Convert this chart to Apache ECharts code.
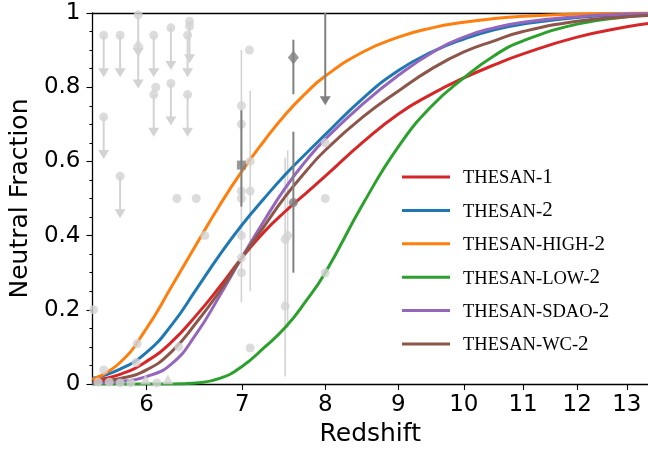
<!DOCTYPE html>
<html>
<head>
<meta charset="utf-8">
<script src="https://cdn.jsdelivr.net/npm/echarts@6/dist/echarts.min.js"></script>
<style>
  html, body { margin: 0; padding: 0; background: #fff; }
  #chart { width: 648px; height: 456px; }
</style>
</head>
<body>
<div id="chart"></div>
<script>
// Redshift grid on which the model histories are sampled
const zGrid = [5.5, 5.75, 6, 6.25, 6.5, 6.75, 7, 7.25, 7.5, 7.75, 8, 8.5, 9, 9.5, 10, 10.5, 11, 12, 13, 13.45];

// Volume-weighted neutral fraction of each simulation
const thesan1     = [0.010, 0.026, 0.061, 0.114, 0.185, 0.262, 0.342, 0.410, 0.465, 0.513, 0.560, 0.652, 0.728, 0.782, 0.825, 0.860, 0.890, 0.935, 0.963, 0.972];
const thesan2     = [0.015, 0.040, 0.085, 0.160, 0.255, 0.348, 0.430, 0.500, 0.564, 0.620, 0.672, 0.770, 0.845, 0.895, 0.930, 0.955, 0.970, 0.988, 0.995, 0.997];
const thesanHigh2 = [0.012, 0.058, 0.150, 0.264, 0.376, 0.482, 0.575, 0.655, 0.726, 0.783, 0.830, 0.895, 0.935, 0.960, 0.975, 0.985, 0.991, 0.997, 0.999, 1.000];
const thesanLow2  = [0.000, 0.000, 0.000, 0.000, 0.003, 0.015, 0.048, 0.098, 0.152, 0.222, 0.300, 0.485, 0.640, 0.750, 0.825, 0.885, 0.925, 0.970, 0.990, 0.994];
const thesanSdao2 = [0.003, 0.007, 0.020, 0.055, 0.135, 0.238, 0.343, 0.440, 0.528, 0.600, 0.660, 0.755, 0.832, 0.893, 0.935, 0.960, 0.975, 0.990, 0.997, 0.998];
const thesanWc2   = [0.005, 0.015, 0.038, 0.088, 0.165, 0.250, 0.342, 0.425, 0.505, 0.572, 0.630, 0.720, 0.790, 0.850, 0.895, 0.925, 0.950, 0.978, 0.990, 0.993];

const modelNames  = ['thesan-1', 'thesan-2', 'thesan-high-2', 'thesan-low-2', 'thesan-sdao-2', 'thesan-wc-2'];
const modelValues = [thesan1, thesan2, thesanHigh2, thesanLow2, thesanSdao2, thesanWc2];
const modelColors = ['#d62728', '#1f77b4', '#ff7f0e', '#2ca02c', '#9467bd', '#8c564b'];

// Observational constraints (light grey): measurements
const obsZ = [5.51, 5.60, 5.91, 5.90, 6.32, 6.30, 6.50, 6.59, 6.99, 6.99, 6.99, 6.99, 6.99, 6.99, 6.99, 7.08, 7.09, 7.09, 7.09, 7.50, 7.50, 7.53, 8.00, 8.00, 8.00, 6.09, 6.43, 5.55, 5.65, 5.75, 5.85, 6.10];
const obsF = [0.20, 0.038, 0.109, 0.058, 0.10, 0.50, 0.50, 0.40, 0.75, 0.70, 0.52, 0.50, 0.40, 0.34, 0.30, 0.90, 0.60, 0.52, 0.097, 0.21, 0.39, 0.40, 0.65, 0.50, 0.30, 0.80, 0.965, 0.005, 0.005, 0.003, 0.003, 0.003];
// Error bars on the measurements: redshift, lower and upper edge
const obsErrZ  = [6.99, 7.09, 7.50, 7.53];
const obsErrLo = [0.22, 0.25, 0.02, 0.15];
const obsErrHi = [0.90, 0.79, 0.61, 0.63];
// Lower-limit triangles near zero
const lowZ = [5.99, 6.21];
const lowF = [0.012, 0.013];
// Upper limits: value and arrow length
const upZ = [5.60, 5.75, 5.92, 6.07, 6.24, 6.43, 6.41, 5.60, 6.07, 6.24, 6.41, 5.75];
const upF = [0.94, 0.94, 0.995, 0.94, 0.96, 0.978, 0.94, 0.72, 0.78, 0.81, 0.78, 0.56];
const upDiamondZ = [5.92];
const upDiamondF = [0.91];
const arrowLen = 0.1;

// Dark grey constraints
const darkSquare  = { z: 6.99, f: 0.59, lo: 0.478, hi: 0.738 };
const darkDiamond = { z: 7.60, f: 0.88, lo: 0.781, hi: 0.928 };
const darkCircle  = { z: 7.60, f: 0.489, lo: 0.30, hi: 0.68 };
const darkArrow   = { z: 8.00, from: 1.0, to: 0.765 };

const xTicks = [6, 7, 8, 9, 10, 11, 12, 13];
const zMin = 5.5, zMax = 13.45;

const LIGHT = '#d3d3d3';
const DARK = '#808080';
const lg = Math.log10;

function errorBarSeries(items, color, width, z) {
  return {
    type: 'custom', z: z, silent: true, clip: true,
    data: items,
    renderItem: function (params, api) {
      const a = api.coord([api.value(0), api.value(1)]);
      const b = api.coord([api.value(0), api.value(2)]);
      return { type: 'line', shape: { x1: a[0], y1: a[1], x2: b[0], y2: b[1] },
               style: { stroke: color, lineWidth: width } };
    }
  };
}

function arrowSeries(items, color, width, z) {
  return {
    type: 'custom', z: z, silent: true, clip: true,
    data: items,
    renderItem: function (params, api) {
      const a = api.coord([api.value(0), api.value(1)]);
      const b = api.coord([api.value(0), api.value(2)]);
      return {
        type: 'group',
        children: [
          { type: 'line', shape: { x1: a[0], y1: a[1], x2: b[0], y2: b[1] - 2 },
            style: { stroke: color, lineWidth: width } },
          { type: 'polygon', shape: { points: [[b[0] - 5.5, b[1] - 4], [b[0] + 5.5, b[1] - 4], [b[0], b[1] + 5]] },
            style: { fill: color } }
        ]
      };
    }
  };
}

const series = [];

// light grey error bars and arrows, beneath the model curves
series.push(errorBarSeries(obsErrZ.map((z, i) => [lg(z), obsErrLo[i], obsErrHi[i]]), LIGHT, 1.6, 1));
series.push(arrowSeries(upZ.map((z, i) => [lg(z), upF[i], upF[i] - arrowLen]), LIGHT, 2, 1));
series.push(arrowSeries(upDiamondZ.map((z, i) => [lg(z), upDiamondF[i], upDiamondF[i] - arrowLen]), LIGHT, 2, 1));

// model curves
modelNames.forEach(function (name, k) {
  series.push({
    name: name, type: 'line', z: 3,
    data: zGrid.map((z, i) => [lg(z), modelValues[k][i]]),
    smooth: 0.5,
    showSymbol: false, symbol: 'none',
    lineStyle: { color: modelColors[k], width: 3 },
    itemStyle: { color: modelColors[k] },
    silent: true, clip: true
  });
});

// light grey markers on top
series.push({ type: 'scatter', z: 5, symbol: 'circle', symbolSize: 9, itemStyle: { color: LIGHT }, clip: true, silent: true,
  data: obsZ.map((z, i) => [lg(z), obsF[i]]).concat(upZ.map((z, i) => [lg(z), upF[i]])) });
series.push({ type: 'scatter', z: 5, symbol: 'diamond', symbolSize: [11, 14], itemStyle: { color: LIGHT }, clip: true, silent: true,
  data: upDiamondZ.map((z, i) => [lg(z), upDiamondF[i]]) });
series.push({ type: 'scatter', z: 5, symbol: 'triangle', symbolSize: [11, 10], itemStyle: { color: LIGHT }, clip: true, silent: true,
  data: lowZ.map((z, i) => [lg(z), lowF[i]]) });

// dark grey constraints
series.push(errorBarSeries([darkSquare, darkDiamond, darkCircle].map(d => [lg(d.z), d.lo, d.hi]), DARK, 2, 6));
series.push(arrowSeries([[lg(darkArrow.z), darkArrow.from, darkArrow.to]], DARK, 2, 6));
series.push({ type: 'scatter', z: 7, symbol: 'rect', symbolSize: 9, itemStyle: { color: DARK }, silent: true,
  data: [[lg(darkSquare.z), darkSquare.f]] });
series.push({ type: 'scatter', z: 7, symbol: 'diamond', symbolSize: [11, 14], itemStyle: { color: DARK }, silent: true,
  data: [[lg(darkDiamond.z), darkDiamond.f]] });
series.push({ type: 'scatter', z: 7, symbol: 'circle', symbolSize: 9, itemStyle: { color: DARK }, silent: true,
  data: [[lg(darkCircle.z), darkCircle.f]] });

const axisFont = 'DejaVu Sans';

const chart = echarts.init(document.getElementById('chart'), null, { renderer: 'canvas' });
chart.setOption({
  animation: false,
  backgroundColor: '#ffffff',
  grid: { left: 92, right: 0, top: 13, bottom: 72, containLabel: false },
  xAxis: [{
    type: 'value',
    min: lg(zMin), max: lg(zMax),
    name: 'Redshift', nameLocation: 'middle', nameGap: 37,
    nameTextStyle: { fontFamily: axisFont, fontSize: 25, color: '#000' },
    axisLine: { show: true, onZero: false, lineStyle: { color: '#000', width: 1.3 } },
    axisTick: { show: true, length: 6, customValues: xTicks.map(lg), lineStyle: { color: '#000', width: 1.1 } },
    axisLabel: { show: true, margin: 10, customValues: xTicks.map(lg), fontFamily: axisFont, fontSize: 23, color: '#000',
      formatter: v => String(Math.round(Math.pow(10, v))) },
    splitLine: { show: false }
  }, {
    type: 'value', position: 'top',
    min: lg(zMin), max: lg(zMax),
    axisLine: { show: true, onZero: false, lineStyle: { color: '#000', width: 1.3 } },
    axisTick: { show: false }, axisLabel: { show: false }, splitLine: { show: false }
  }],
  yAxis: {
    type: 'value', min: 0, max: 1, interval: 0.2,
    name: 'Neutral Fraction', nameLocation: 'middle', nameGap: 58,
    nameTextStyle: { fontFamily: axisFont, fontSize: 25, color: '#000' },
    axisLine: { show: true, onZero: false, lineStyle: { color: '#000', width: 1.3 } },
    axisTick: { show: true, length: 6, lineStyle: { color: '#000', width: 1.1 } },
    minorTick: { show: true, splitNumber: 4, length: 3, lineStyle: { color: '#000', width: 1 } },
    axisLabel: { margin: 12, fontFamily: axisFont, fontSize: 23, color: '#000' },
    splitLine: { show: false }
  },
  legend: {
    data: modelNames,
    orient: 'vertical', left: 397, top: 162,
    itemWidth: 48, itemHeight: 3, itemGap: 12.4, icon: 'rect',
    selectedMode: false,
    formatter: function (name) {
      const body = name.slice(0, -1).toUpperCase();
      const num = name.slice(-1);
      return '{gap|}{sc|' + body + '}{num|' + num + '}';
    },
    textStyle: {
      color: '#000',
      rich: {
        gap: { width: 8, height: 22 },
        sc: { fontFamily: 'Liberation Serif', fontSize: 18.5, lineHeight: 22, color: '#000', verticalAlign: 'bottom' },
        num: { fontFamily: 'Liberation Serif', fontSize: 21, lineHeight: 22, color: '#000', verticalAlign: 'bottom' }
      }
    }
  },
  series: series
});
</script>
</body>
</html>
